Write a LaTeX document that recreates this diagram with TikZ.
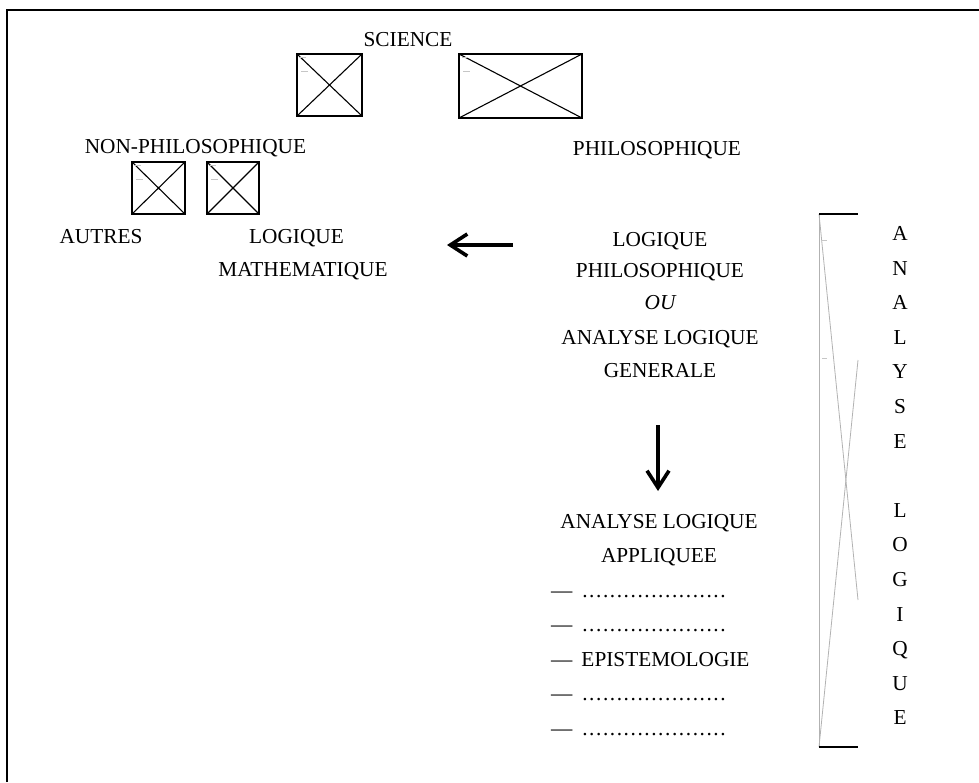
\documentclass[tikz,border=0pt]{standalone}
\usepackage{fontspec}
\setmainfont{Liberation Serif}
\usetikzlibrary{arrows.meta}
\newcommand{\dotrow}{\makebox[145pt][l]{\xleaders\hbox to 6.9pt{\hss.\hss}\hfill}}
\begin{document}
\begin{tikzpicture}[x=1pt,y=-1pt,
  txt/.style={font=\fontsize{21.3}{25}\selectfont, inner sep=0pt, anchor=base},
  itm/.style={font=\fontsize{21.3}{25}\selectfont, inner sep=0pt, anchor=base west},
  xbox/.style={draw, line width=1.1pt},
  xline/.style={line width=1.1pt},
  faint/.style={draw=gray!45, line width=0.6pt},
  bigarrow/.style={line width=3.6pt, -{Straight Barb[length=17pt,width=22pt,line width=3.6pt]}}]
\useasboundingbox (0,0) rectangle (979,782);
% frame
\draw[line width=2pt] (7,782) -- (7,10) -- (979,10);
% boxes with crosses
\foreach \n/\a/\b/\c/\d in {b1/297/54/362/116, b2/459/54/582/118, b3/132/162/185/214, b4/207/162/259/214}{
  \draw[xbox] (\a,\b) rectangle (\c,\d);
  \draw[xline] (\a,\b) -- (\c,\d) (\a,\d) -- (\c,\b);
  \draw[faint] (\a+3,\b+3) -- (\a+9,\b+3) (\a+4,\b+17) -- (\a+11,\b+17);
}
% texts
\node[txt] (science) at (408,46) {SCIENCE};
\node[txt] (nonphilo) at (195.5,153) {NON-PHILOSOPHIQUE};
\node[txt] (philo) at (657,155) {PHILOSOPHIQUE};
\node[txt] (autres) at (101,243) {AUTRES};
\node[txt] (logm1) at (296.5,243) {LOGIQUE};
\node[txt] (logm2) at (303,276) {MATHEMATIQUE};
\node[txt] (lp1) at (660,246) {LOGIQUE};
\node[txt] (lp2) at (660,277.5) {PHILOSOPHIQUE};
\node[txt] (lp3) at (660,309.5) {\itshape OU};
\node[txt] (lp4) at (660,344.25) {ANALYSE LOGIQUE};
\node[txt] (lp5) at (660,377) {GENERALE};
\node[txt] (ala1) at (659,528) {ANALYSE LOGIQUE};
\node[txt] (ala2) at (659,562.5) {APPLIQUEE};
\node[itm] (i1) at (551,597) {—\hspace{9pt}\dotrow};
\node[itm] (i2) at (551,631.5) {—\hspace{9pt}\dotrow};
\node[itm] (i3) at (551,666) {—\hspace{9pt}EPISTEMOLOGIE};
\node[itm] (i4) at (551,700.5) {—\hspace{9pt}\dotrow};
\node[itm] (i5) at (551,735) {—\hspace{9pt}\dotrow};
% arrows
\coordinate (la1) at (513,245);
\coordinate (la2) at (447,245);
\draw[bigarrow] (la1) -- (la2);
\coordinate (da1) at (658,425);
\coordinate (da2) at (658,491);
\draw[bigarrow] (da1) -- (da2);
% right bracket
\draw[draw=gray!60, line width=0.8pt] (819,214) -- (819,747);
\draw[draw=gray!60, line width=0.8pt] (819,214) -- (858,600);
\draw[draw=gray!60, line width=0.8pt] (858,360) -- (819,747);
\draw[line width=1.2pt] (819,214) -- (858,214);
\draw[line width=1.2pt] (819,747) -- (858,747);
\draw[faint] (822,240) -- (827,240) (822,358) -- (827,358);
% vertical word
\foreach \l [count=\i from 0] in {A,N,A,L,Y,S,E,{},L,O,G,I,Q,U,E}{
  \node[txt] (v\i) at (900,240.5+34.6*\i) {\l};
}
\end{tikzpicture}
\end{document}
